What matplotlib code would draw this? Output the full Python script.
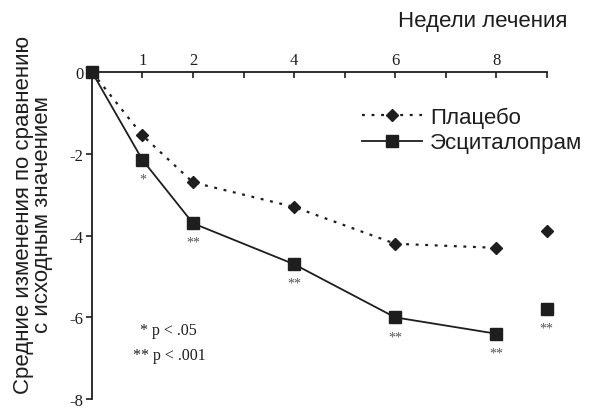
import numpy as np
import matplotlib
matplotlib.use("Agg")
import matplotlib.pyplot as plt

# weeks of treatment
weeks = [0, 1, 2, 4, 6, 8]
placebo = [0, -1.55, -2.7, -3.3, -4.2, -4.3]
escit = [0, -2.15, -3.7, -4.7, -6.0, -6.4]
# endpoint values (shown apart, at week 9 position)
end_week = 9
placebo_end = -3.9
escit_end = -5.8
# significance marks under escitalopram points
sig_weeks = [1, 2, 4, 6, 8, 9]
sig_vals = [-2.15, -3.7, -4.7, -6.0, -6.4, -5.8]
sig_marks = ["*", "**", "**", "**", "**", "**"]

tick_labels = ["1", "2", "4", "6", "8"]
ink = "#1e1e1e"
serif = "Liberation Serif"
sans = "Liberation Sans"

fig = plt.figure(figsize=(5.93, 4.10), dpi=100)
ax = fig.add_axes([0.155, 0.024, 0.767, 0.798])

ax.plot(weeks, placebo, linestyle=(0, (1.3, 3)), color=ink, linewidth=1.6,
        marker="D", markersize=6.5, label="Плацебо", clip_on=False, zorder=3)
ax.plot(weeks, escit, linestyle="-", color=ink, linewidth=1.3,
        marker="s", markersize=9, label="Эсциталопрам", clip_on=False, zorder=4)
ax.plot([end_week], [placebo_end], marker="D", markersize=6.5, color=ink,
        linestyle="none", clip_on=False)
ax.plot([end_week], [escit_end], marker="s", markersize=9, color=ink,
        linestyle="none", clip_on=False)

for w, v, m in zip(sig_weeks, sig_vals, sig_marks):
    ax.text(w, v - 0.47, m, ha="center", va="center", fontsize=10,
            family=serif, color="#555555")

ax.set_xlim(0, 9)
ax.set_ylim(-8, 0)

for s in ["right", "bottom"]:
    ax.spines[s].set_visible(False)
ax.spines["top"].set_color(ink)
ax.spines["left"].set_color(ink)
ax.spines["top"].set_linewidth(1.3)
ax.spines["left"].set_linewidth(1.3)

ax.xaxis.set_ticks_position("top")
ax.set_xticks([1, 2, 4, 6, 8])
ax.set_xticklabels(tick_labels, family=serif, fontsize=12, color=ink)
ax.set_xticks([3, 5, 7, 9], minor=True)
ax.tick_params(axis="x", which="both", direction="in", length=4, width=1.2,
               color=ink, pad=3)

ax.set_yticks([0, -2, -4, -6, -8])
ax.set_yticklabels(["0", "-2", "-4", "-6", "-8"], family=serif, fontsize=12, color=ink)
ax.tick_params(axis="y", direction="out", length=4, width=1.2, color=ink, pad=2)

fig.text(0.956, 0.948, "Недели лечения", ha="right", va="center",
         family=sans, fontsize=16, color=ink)
fig.text(0.056, 0.476, "Средние изменения по сравнению\nс исходным значением",
         rotation=90, ha="center", va="center", family=sans, fontsize=16,
         color=ink, linespacing=0.9)

fig.text(140 / 593, 1 - 331 / 410, "* p < .05", ha="left", va="center",
         family=serif, fontsize=11.5, color=ink)
fig.text(133 / 593, 1 - 356 / 410, "** p < .001", ha="left", va="center",
         family=serif, fontsize=11.5, color=ink)

leg = ax.legend(loc="center left", bbox_to_anchor=(362 / 593, 1 - 131 / 410),
                bbox_transform=fig.transFigure, frameon=False,
                prop={"family": sans, "size": 16}, handlelength=2.7,
                handletextpad=0.35, labelspacing=0.2, borderpad=0,
                borderaxespad=0)
for t in leg.get_texts():
    t.set_color(ink)

fig.savefig("out.png", dpi=100, facecolor="white")
